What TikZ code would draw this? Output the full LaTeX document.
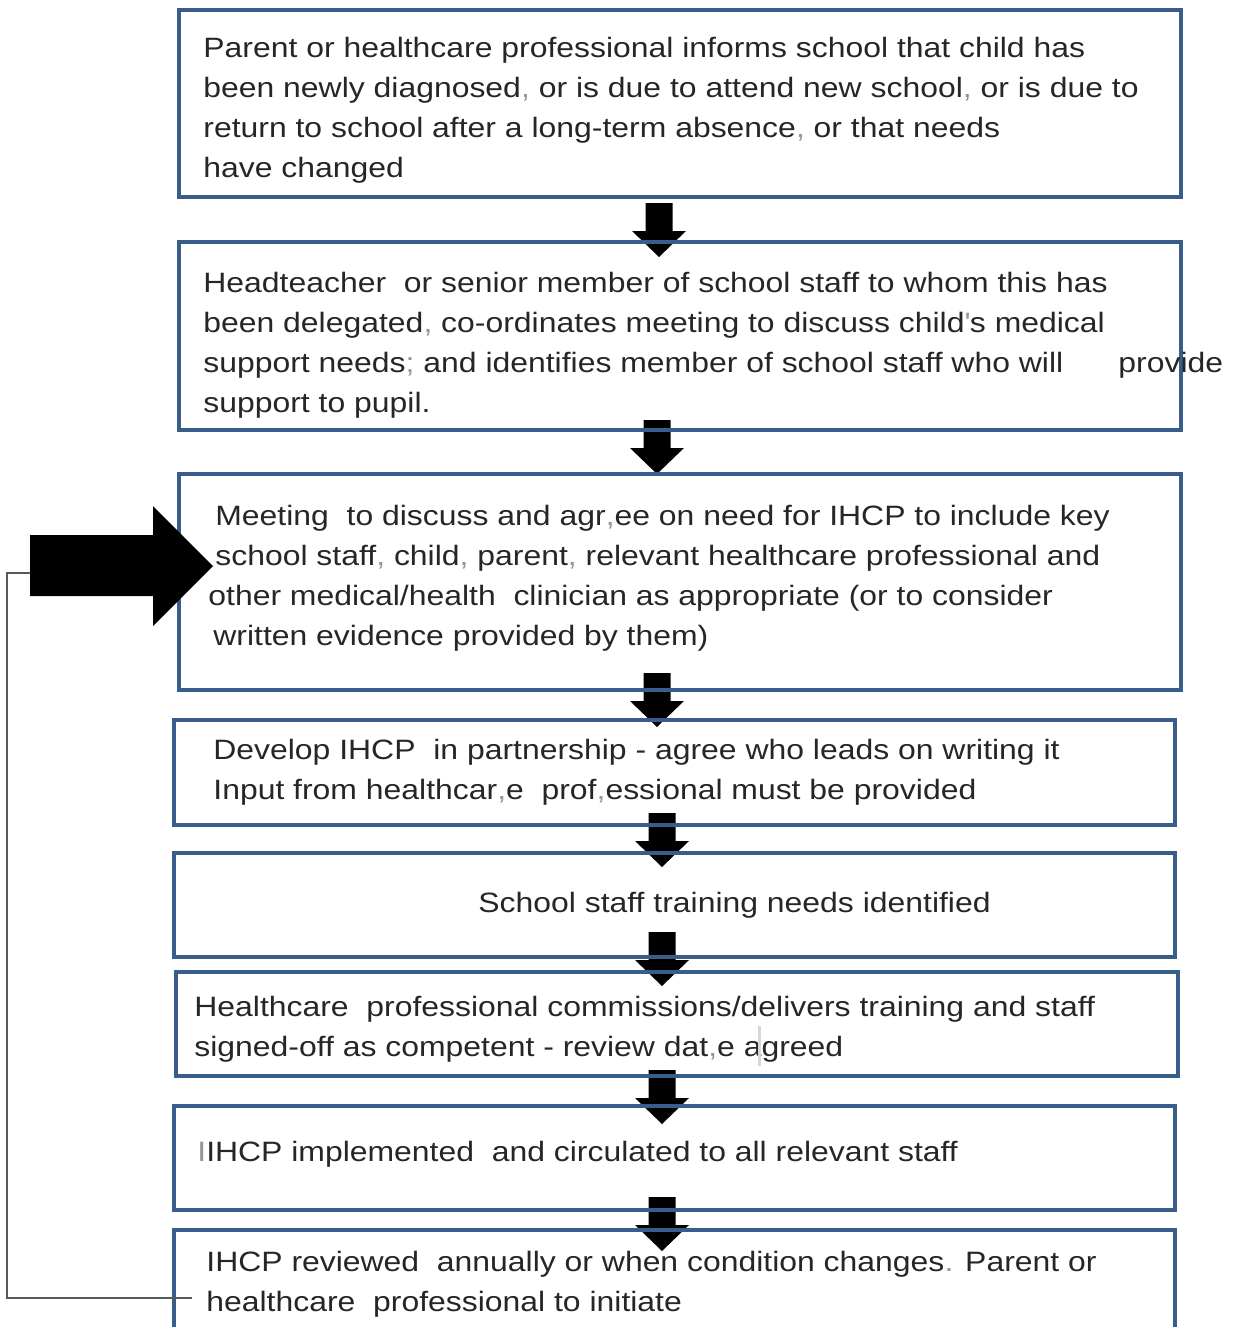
\documentclass[tikz,border=0pt]{standalone}
\usepackage{fontspec}
\setmainfont{Liberation Sans}[FakeStretch=1.14]
\usetikzlibrary{calc}
\definecolor{boxblue}{RGB}{56,93,138}
\definecolor{textc}{RGB}{38,38,38}
\definecolor{litec}{RGB}{150,150,150}
\definecolor{barc}{RGB}{215,215,215}
\definecolor{fbgrey}{RGB}{89,89,89}
\newcommand{\greyc}[1]{{\color{litec}#1}}
\pgfdeclarelayer{bg}
\pgfsetlayers{bg,main}
\tikzset{
  stepbox/.style={draw=boxblue, line width=2pt, outer sep=0pt, inner sep=0pt},
  txt/.style={anchor=base west, inner sep=0pt, align=left, text=textc,
    font=\fontsize{14}{20}\selectfont},
  downarr/.pic={\fill[black] (-13.5,0) -- (13.5,0) -- (13.5,28) -- (27,28)
    -- (0,54) -- (-27,28) -- (-13.5,28) -- cycle;},
  fbline/.style={draw=fbgrey, line width=1pt}
}

\begin{document}
\begin{tikzpicture}[x=0.5pt, y=-0.5pt]
  \clip (0,0) rectangle (1233,1327);

  % Boxes
  \node[stepbox, minimum width=501pt, minimum height=93.5pt] (b1) at (680,103.5) {};
  \node[stepbox, minimum width=501pt, minimum height=94pt] (b2) at (680,336) {};
  \node[stepbox, minimum width=501pt, minimum height=108pt] (b3) at (680,582) {};
  \node[stepbox, minimum width=500.5pt, minimum height=52.5pt] (b4) at (674.5,772.5) {};
  \node[stepbox, minimum width=500.5pt, minimum height=52pt] (b5) at (674.5,905) {};
  \node[stepbox, minimum width=501pt, minimum height=52pt] (b6) at (677,1024) {};
  \node[stepbox, minimum width=500.5pt, minimum height=52pt] (b7) at (674.5,1158) {};
  \node[stepbox, minimum width=500.5pt, minimum height=70pt] (b8) at (674.5,1300) {};

  % Arrows between the boxes, behind the frames
  \begin{pgfonlayer}{bg}
    \pic at ($(b1.south)+(-21,6)$) {downarr};
    \pic at ($(b2.south)+(-23,-10)$) {downarr};
    \pic at ($(b3.south)+(-23,-17)$) {downarr};
    \pic at ($(b4.south)+(-12.5,-12)$) {downarr};
    \pic at ($(b5.south)+(-12.5,-25)$) {downarr};
    \pic at ($(b6.south)+(-15,-6)$) {downarr};
    \pic at ($(b7.south)+(-12.5,-13)$) {downarr};
  \end{pgfonlayer}

  % Feedback line from the last box back to the meeting
  \coordinate (bigtail) at (30,573);
  \coordinate (fbin) at ($(b8.west)+(18,-2)$);
  \draw[fbline] (fbin) -- ++(-185,0) |- (bigtail);

  % Big arrow into the meeting box
  \fill[black] (bigtail |- 0,535) -- (153,535) -- (153,506) -- (213,566)
    -- (153,626) -- (153,596) -- (bigtail |- 0,596) -- cycle;

  % Texts (placed by the baseline of their last line)
  \node[txt] (t1) at (203,177) {Parent or healthcare professional informs school that child has\\been newly diagnosed\greyc{,} or is due to attend new school\greyc{,} or is due to\\return to school after a long-term absence\greyc{,} or that needs\\have changed};
  \node[txt] (t2) at (203,412) {Headteacher~ or senior member of school staff to whom this has\\been delegated\greyc{,} co-ordinates meeting to discuss child\greyc{\textquotesingle}s medical\\support needs\greyc{;} and identifies member of school staff who will\\support to pupil.};
  \node[txt] (t2b) at (1118,372) {provide};
  \node[txt] (t3) at (215,645) {Meeting~ to discuss and agr\greyc{,}ee on need for IHCP to include key\\school staff\greyc{,} child\greyc{,} parent\greyc{,} relevant healthcare professional and\\\hspace*{-3.5pt}other medical/health~ clinician as appropriate (or to consider\\\hspace*{-1pt}written evidence provided by them)};
  \node[txt] (t4) at (213,799) {Develop IHCP~ in partnership - agree who leads on writing it\\Input from healthcar\greyc{,}e~ prof\greyc{,}essional must be provided};
  \node[txt] (t5) at (478,912) {School staff training needs identified};
  \node[txt] (t6) at (194,1056) {Healthcare~ professional commissions/delivers training and staff\\signed-off as competent - review dat\greyc{,}e agreed};
  \draw[barc, line width=1.5pt] (759,1026) -- (759,1066);
  \node[txt] (t7) at (197,1161) {\greyc{I}IHCP implemented~ and circulated to all relevant staff};
  \node[txt] (t8) at (206,1311) {IHCP reviewed~ annually or when condition changes\greyc{.} Parent or\\healthcare~ professional to initiate};
\end{tikzpicture}
\end{document}
